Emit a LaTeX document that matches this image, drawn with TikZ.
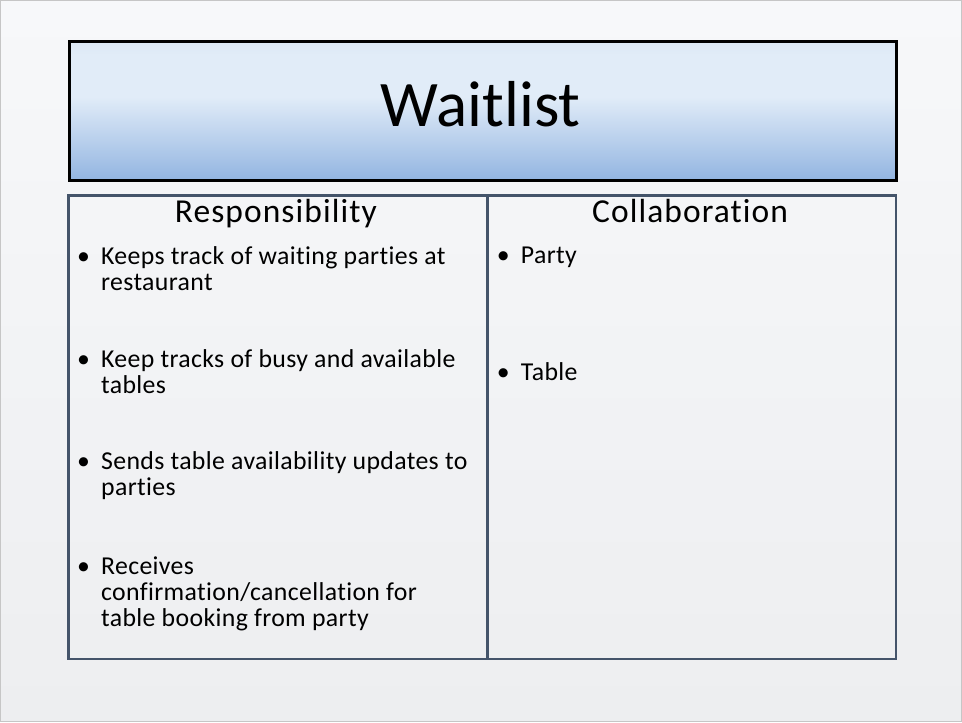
\documentclass[tikz,border=0pt]{standalone}
\usepackage{fontspec}
\setmainfont{Carlito}[Ligatures=NoCommon]
\usetikzlibrary{positioning}

\definecolor{slidetop}{HTML}{F7F8FA}
\definecolor{slidebot}{HTML}{EDEEF0}
\definecolor{slideedge}{HTML}{C6C6C6}
\definecolor{titletop}{HTML}{DBE7F4}
\definecolor{titlemid}{HTML}{E1ECF8}
\definecolor{titlebot}{HTML}{93B5E1}
\definecolor{cellline}{HTML}{44546A}

\pgfdeclareverticalshading{titlegrad}{100bp}{color(0bp)=(titlebot); color(25bp)=(titlebot); color(55bp)=(titlemid); color(70bp)=(titlemid); color(75bp)=(titletop); color(100bp)=(titletop)}

\newcommand{\headfont}{\fontsize{33.5}{38}\selectfont\addfontfeature{LetterSpace=3.2}}
\newcommand{\bodyfont}{\fontsize{25.8}{25.9}\selectfont\addfontfeature{LetterSpace=1.4}}
\newcommand{\itemlines}[1]{\begin{tabular}[t]{@{}l@{}}#1\end{tabular}}

\begin{document}
\begin{tikzpicture}[
    x=1pt, y=-1pt,
    titlebox/.style={rectangle, draw=black, line width=3pt, shading=titlegrad, anchor=north west, inner sep=0pt},
    cell/.style={rectangle, draw=cellline, line width=2.7pt, anchor=north west, inner sep=0pt},
    header/.style={anchor=base, inner sep=0pt, font=\headfont},
    item/.style={anchor=base west, inner sep=0pt, font=\bodyfont},
    dot/.style={anchor=base west, inner sep=0pt, font=\bodyfont}
]

% Slide background
\node[rectangle, draw=slideedge, line width=1pt, top color=slidetop, bottom color=slidebot,
      minimum width=961pt, minimum height=721pt, anchor=north west, inner sep=0pt] (slide) at (0.5,0.5) {};
\useasboundingbox (0,0) rectangle (962,722);

% Title
\node[titlebox, minimum width=827.3pt, minimum height=139.1pt] (title) at (67.7,39.7) {};
\node[anchor=base, inner sep=0pt, font=\fontsize{65}{70}\selectfont] (titletext) at (481,127) {Waitlist};

% CRC cells
\node[cell, minimum width=419pt, minimum height=464pt] (resp) at (67.5,194) {};
\node[cell, minimum width=408.5pt, minimum height=464pt] (collab) at (486.5,194) {};

\node[header] (resphead) at (276,222.5) {Responsibility};
\node[header] (collabhead) at (690.5,222.5) {Collaboration};

% Responsibilities
\node[dot] (rb1) at (77,265) {\textbullet};
\node[item] (r1) at (101,265) {\itemlines{Keeps track of waiting parties at\\restaurant}};
\node[dot] (rb2) at (77,367.5) {\textbullet};
\node[item] (r2) at (101,367.5) {\itemlines{Keep tracks of busy and available\\tables}};
\node[dot] (rb3) at (77,470) {\textbullet};
\node[item] (r3) at (101,470) {\itemlines{Sends table availability updates to\\parties}};
\node[dot] (rb4) at (77,575) {\textbullet};
\node[item] (r4) at (101,575) {\itemlines{Receives\\confirmation/cancellation for\\table booking from party}};

% Collaborators
\node[dot] (cb1) at (497,264) {\textbullet};
\node[item] (c1) at (521,264) {Party};
\node[dot] (cb2) at (497,381) {\textbullet};
\node[item] (c2) at (521,381) {Table};

\end{tikzpicture}
\end{document}
